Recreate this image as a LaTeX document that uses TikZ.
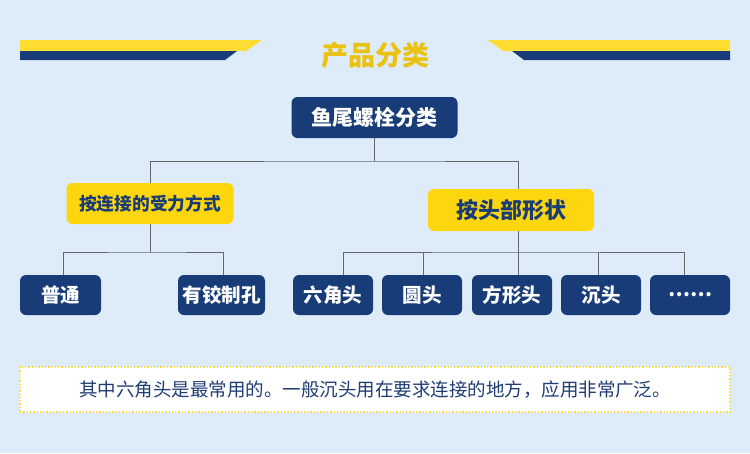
\documentclass[tikz,border=0pt]{standalone}
\usepackage{fontspec}
\setmainfont{Noto Sans CJK SC}
\definecolor{bg}{HTML}{DEEBF8}
\definecolor{navy}{HTML}{173C77}
\definecolor{ynode}{HTML}{FDD60E}
\definecolor{bary}{HTML}{FFDD33}
\definecolor{ytitle}{HTML}{EBC211}
\definecolor{linec}{HTML}{666666}
\definecolor{txt}{HTML}{1F3C73}
\tikzset{
  navybox/.style={fill=navy, rounded corners=6pt, text=white, minimum height=40pt, minimum width=80pt, inner sep=0pt,
    font=\fontsize{19.5}{19.5}\selectfont\bfseries},
  yellowbox/.style={fill=ynode, rounded corners=6pt, text=navy, minimum height=41pt, minimum width=167pt, inner sep=0pt,
    font=\fontsize{17.7}{17.7}\selectfont\bfseries},
  conn/.style={draw=linec, line width=1pt},
}
\begin{document}
\begin{tikzpicture}[x=1pt,y=-1pt]
\fill[bg] (0,0) rectangle (750,453);
\useasboundingbox (0,0) rectangle (750,453);
% header bars
\fill[fill=bary] (20,40) -- (262,40) -- (246,51) -- (20,51) -- cycle;
\fill[fill=navy] (20,51) -- (237,51) -- (225,60) -- (20,60) -- cycle;
\fill[fill=bary] (488,40) -- (730,40) -- (730,51) -- (503,51) -- cycle;
\fill[fill=navy] (512,51) -- (730,51) -- (730,60) -- (524,60) -- cycle;
\node[text=ytitle, font=\fontsize{27}{27}\selectfont\bfseries] (title) at (375,55) {产品分类};
% nodes
\node[navybox, minimum width=166pt, minimum height=41pt, font=\fontsize{21}{21}\selectfont\bfseries] (root) at (374.5,117.5) {鱼尾螺栓分类};
\node[yellowbox] (lefty) at (150,203.5) {按连接的受力方式};
\node[yellowbox, minimum width=166pt, minimum height=42pt, font=\fontsize{22}{22}\selectfont\bfseries] (righty) at (511,210) {按头部形状};
\node[navybox, minimum width=81pt] (b1) at (60.5,295) {普通};
\node[navybox, minimum width=87pt] (b2) at (221.5,295) {有铰制孔};
\node[navybox] (b3) at (333,295) {六角头};
\node[navybox] (b4) at (422,295) {圆头};
\node[navybox] (b5) at (512,295) {方形头};
\node[navybox] (b6) at (601,295) {沉头};
\node[navybox] (b7) at (690,295) {……};
% connector anchors
\coordinate (ht) at (374.5,161);
\coordinate (hl) at (150,252);
\coordinate (hr) at (518,252);
\coordinate (t1) at (63,275);
\coordinate (t2) at (223,275);
\coordinate (t3) at (343,275);
\coordinate (t4) at (423,275);
\coordinate (t5) at (518,275);
\coordinate (t6) at (598,275);
\coordinate (t7) at (684,275);
% connectors
\draw[conn] (root.south) -- (ht);
\draw[conn] (lefty.north) |- (ht) -| (righty.north -| t5);
\draw[conn] (lefty.south) -- (hl);
\draw[conn] (t1) |- (hl) -| (t2);
\draw[conn] (righty.south -| t5) -- (t5);
\draw[conn] (t3) |- (hr) -| (t7);
\draw[conn] (t4) -- (t4 |- hr);
\draw[conn] (t6) -- (t6 |- hr);
% note box
\node[fill=white, draw=bary, dotted, line width=1.3pt, minimum width=710pt, minimum height=45pt, inner sep=0pt,
  text=txt, font=\fontsize{18.5}{18.5}\selectfont] (note) at (375,389.5) {其中六角头是最常用的。一般沉头用在要求连接的地方，应用非常广泛。};
\end{tikzpicture}
\end{document}
